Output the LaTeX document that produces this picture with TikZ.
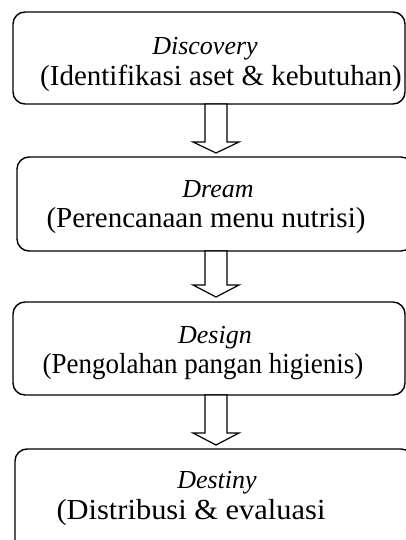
\documentclass[tikz,border=0pt]{standalone}
\usepackage{fontspec}
\setmainfont{Liberation Serif}
\begin{document}
\begin{tikzpicture}[x=1pt,y=-1pt,
  stagebox/.style={draw, line width=1.4pt, rounded corners=12pt, inner sep=0pt},
  head/.style={font=\fontsize{26}{30}\selectfont\itshape, inner sep=0pt, anchor=base},
  desc/.style={font=\fontsize{29}{33}\selectfont, inner sep=0pt, anchor=base},
  fatarrow/.style={draw, line width=1.2pt, fill=white, line join=miter}]
\useasboundingbox (0,0) rectangle (406,540);
\clip (0,0) rectangle (406,540);
\fill[white] (0,0) rectangle (406,540);
% boxes
\node[stagebox, minimum width=392pt, minimum height=92pt] (b1) at (209,58) {};
\node[stagebox, minimum width=396pt, minimum height=94pt] (b2) at (215,204) {};
\node[stagebox, minimum width=392pt, minimum height=93pt] (b3) at (209,348.5) {};
\node[stagebox, minimum width=398pt, minimum height=120pt] (b4) at (214,509) {};
% texts
\node[head] (t1a) at (205,55) {Discovery};
\node[desc] (t1b) at (221,86) {(Identifikasi aset \& kebutuhan)};
\node[head] (t2a) at (218,197) {Dream};
\node[desc] (t2b) at (206,227) {(Perencanaan menu nutrisi)};
\node[head] (t3a) at (215,343) {Design};
\node[desc] (t3b) at (203,373) {\scalebox{0.93}[1]{(Pengolahan pangan higienis)}};
\node[head] (t4a) at (217,488) {Destiny};
\node[desc] (t4b) at (191,519) {\scalebox{1.05}[1]{(Distribusi \& evaluasi}};
% arrows
\newcommand{\fatdown}[3]{%
  \draw[fatarrow] (205,#1) -- (227,#1) -- (227,#2) -- (239,#2) -- (216,#3)
    -- (193,#2) -- (205,#2) -- cycle;}
\fatdown{104}{142}{153}
\fatdown{251}{285}{297}
\fatdown{395}{433}{445}
\end{tikzpicture}
\end{document}
